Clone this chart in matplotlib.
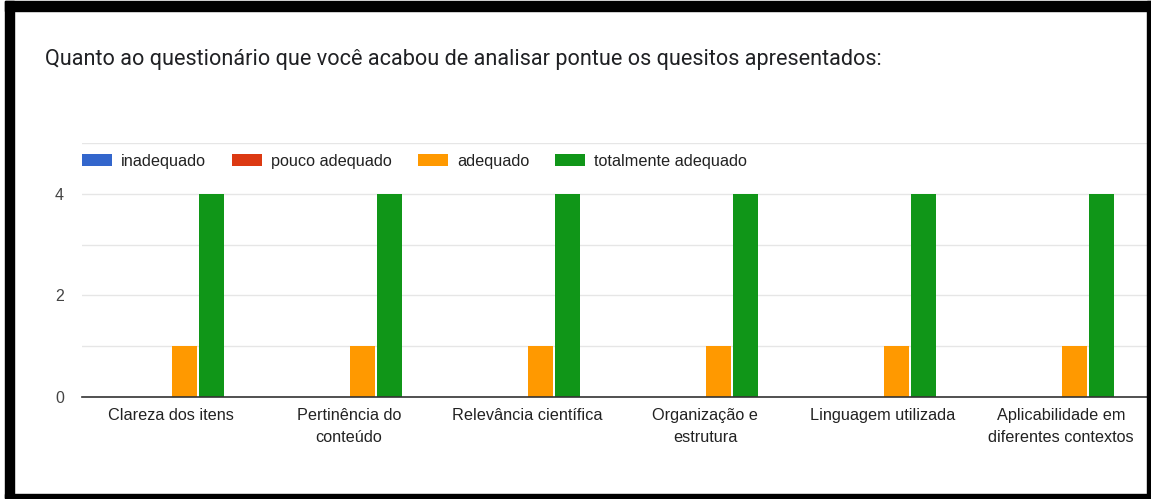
import matplotlib
matplotlib.use("Agg")
import matplotlib.pyplot as plt
from matplotlib.patches import Rectangle
import numpy as np

plt.rcParams['font.family'] = ['Liberation Sans', 'DejaVu Sans']

title = "Quanto ao questionário que você acabou de analisar pontue os quesitos apresentados:"
categories = ["Clareza dos itens", "Pertinência do\nconteúdo", "Relevância científica",
              "Organização e\nestrutura", "Linguagem utilizada",
              "Aplicabilidade em\ndiferentes contextos"]
series_names = ["inadequado", "pouco adequado", "adequado", "totalmente adequado"]
inadequado = [0, 0, 0, 0, 0, 0]
pouco_adequado = [0, 0, 0, 0, 0, 0]
adequado = [1, 1, 1, 1, 1, 1]
totalmente_adequado = [4, 4, 4, 4, 4, 4]
colors = ["#3366cc", "#dc3912", "#ff9900", "#109618"]
yticks = [0, 2, 4]

W, H = 1151, 499
fig = plt.figure(figsize=(W / 100, H / 100), dpi=100)
fig.patch.set_facecolor("white")

# plot area in pixels: x 82..1150, y 0 at 397, 5 at 143
x0, x1 = 82, 1150
yb, yt = 397, 143
ax = fig.add_axes([x0 / W, 1 - yb / H, (x1 - x0) / W, (yb - yt) / H])
ax.set_xlim(-0.5, len(categories) - 0.5)
ax.set_ylim(0, 5)

vals = [inadequado, pouco_adequado, adequado, totalmente_adequado]
x = np.arange(len(categories))
step = 0.152
bw = 0.14
for i, (v, c, n) in enumerate(zip(vals, colors, series_names)):
    ax.bar(x + (i - 1.5) * step, v, width=bw, color=c, label=n, zorder=3)

ax.set_yticks(yticks)
ax.set_yticks([1, 3, 5], minor=True)
ax.grid(axis='y', which='both', color='#e6e6e6', linewidth=1, zorder=0)
ax.tick_params(axis='y', which='both', length=0, labelsize=11.5, labelcolor='#444444', pad=13)
ax.set_xticks(x)
ax.set_xticklabels(categories, fontsize=11.7, color='#222222', linespacing=1.6, va='top')
ax.tick_params(axis='x', length=0, pad=8)
for s in ['top', 'right', 'left']:
    ax.spines[s].set_visible(False)
ax.spines['bottom'].set_color('#333333')
ax.spines['bottom'].set_linewidth(1.2)
ax.spines['bottom'].set_zorder(4)

# legend row
leg = ax.legend(loc='center left', bbox_to_anchor=(0.0, 1 - 18 / (yb - yt)), ncol=4, frameon=False,
                fontsize=11.7, handlelength=1.85, handleheight=0.8, handletextpad=0.55,
                columnspacing=1.6, borderaxespad=0.0, borderpad=0.0)
for t in leg.get_texts():
    t.set_color('#222222')

fig.text(45 / W, 1 - 60 / H, title, fontsize=15.6, color='#202124', va='center', ha='left',
         family=['Roboto', 'DejaVu Sans'])

# black frame
def rect(px, py, pw, ph):
    fig.patches.append(Rectangle((px / W, 1 - (py + ph) / H), pw / W, ph / H,
                                 transform=fig.transFigure, color='black', zorder=10))
rect(5, 1, 1146, 10)     # top
rect(5, 1, 9, 497)       # left
rect(1147, 1, 4, 497)    # right
rect(5, 494, 1146, 4)    # bottom

fig.savefig("out.png", dpi=100, facecolor="white")
